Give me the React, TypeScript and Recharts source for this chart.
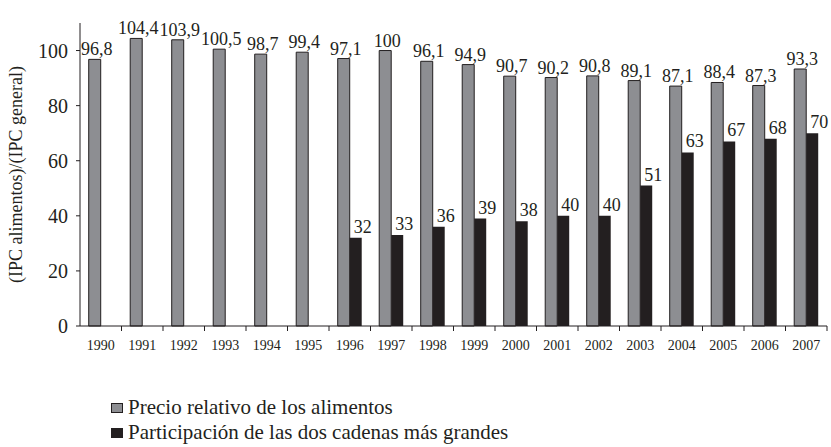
import { BarChart, Bar, XAxis, YAxis, LabelList } from 'recharts';

const YEARS   = ['1990','1991','1992','1993','1994','1995','1996','1997','1998','1999','2000','2001','2002','2003','2004','2005','2006','2007'];
const PRECIO  = [96.8, 104.4, 103.9, 100.5, 98.7, 99.4, 97.1, 100, 96.1, 94.9, 90.7, 90.2, 90.8, 89.1, 87.1, 88.4, 87.3, 93.3];
const CADENAS = [null, null, null, null, null, null, 32, 33, 36, 39, 38, 40, 40, 51, 63, 67, 68, 70];
const Y_TICKS = [0, 20, 40, 60, 80, 100];
const LEGEND  = ['Precio relativo de los alimentos', 'Participación de las dos cadenas más grandes'];

const FONT  = 'Liberation Serif';
const INK   = '#231f20';
const GRAY  = '#8d8e92';
const W = 831, H = 447;
const XH = 30;
const YW = 80;
const M = { top: 23, right: 4, left: 0, bottom: 121 - XH };
const BAND = (W - YW - M.right) / YEARS.length;

const data = YEARS.map((y, i) => ({ year: y, precio: PRECIO[i], cadenas: CADENAS[i] }));

const fmt = (v: number) => String(v).replace('.', ',');

function XTick({ x, y, payload, index }: any) {
  const last = index === YEARS.length - 1;
  return (
    <g>
      {index > 0 && <line x1={x - BAND / 2} x2={x - BAND / 2} y1={y - 8} y2={y - 3} stroke={INK} />}
      {last && <line x1={x + BAND / 2} x2={x + BAND / 2} y1={y - 8} y2={y - 3} stroke={INK} />}
      <text x={x} y={y + 16} textAnchor="middle" fontFamily={FONT} fontSize={14} fill={INK}>{payload.value}</text>
    </g>
  );
}

function GrayLabel({ x, y, width, value }: any) {
  if (value == null) return null;
  return <text x={x + width / 2 + 2} y={y - 4} textAnchor="middle" fontFamily={FONT} fontSize={18} fill={INK}>{fmt(value)}</text>;
}

function DarkLabel({ x, y, width, value }: any) {
  if (value == null) return null;
  return <text x={x + width + 1} y={y - 5} textAnchor="middle" fontFamily={FONT} fontSize={18} fill={INK}>{fmt(value)}</text>;
}

export default function App() {
  return (
    <div style={{ position: 'absolute', left: 0, top: 0, width: W, height: H, background: '#fff' }}>
      <BarChart width={W} height={H} data={data} margin={M} barCategoryGap="21%" barGap={0}>
        <XAxis dataKey="year" tickLine={false} axisLine={{ stroke: INK }} tick={<XTick />} interval={0} height={XH} />
        <YAxis domain={[0, 110]} ticks={Y_TICKS} tickSize={4} tickMargin={8} axisLine={{ stroke: INK }} tickLine={{ stroke: INK }}
               tick={{ fontSize: 20, fill: INK, fontFamily: FONT }} width={YW}
               label={{ value: '(IPC alimentos)/(IPC general)', angle: -90, position: 'insideLeft', offset: 16,
                        fontFamily: FONT, fontSize: 18, fill: INK, style: { textAnchor: 'middle' } }} />
        <Bar dataKey="precio" fill={GRAY} stroke={INK} strokeWidth={1} isAnimationActive={false}>
          <LabelList dataKey="precio" content={<GrayLabel />} />
        </Bar>
        <Bar dataKey="cadenas" fill={INK} isAnimationActive={false}>
          <LabelList dataKey="cadenas" content={<DarkLabel />} />
        </Bar>
      </BarChart>
      <div style={{ position: 'absolute', left: 111, top: 395, fontFamily: FONT, fontSize: 21, color: INK, lineHeight: '25px' }}>
        {LEGEND.map((label, i) => (
          <div key={label} style={{ display: 'flex', alignItems: 'center', whiteSpace: 'nowrap' }}>
            <span style={{ display: 'inline-block', width: 12, height: 10, background: i === 0 ? GRAY : INK, border: `1px solid ${INK}`, marginRight: 5, boxSizing: 'border-box' }} />
            <span>{label}</span>
          </div>
        ))}
      </div>
    </div>
  );
}
